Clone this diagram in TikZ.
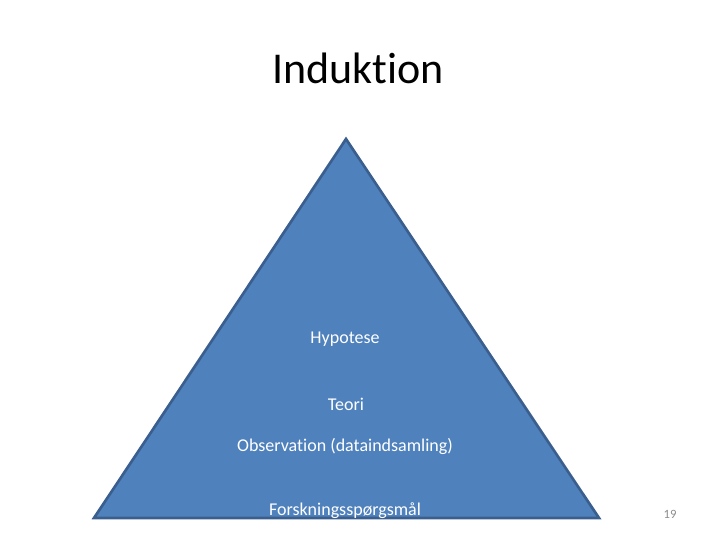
\documentclass[tikz,border=0pt]{standalone}
\usepackage{fontspec}
\setmainfont[Ligatures=NoCommon]{Carlito}
\definecolor{tfill}{HTML}{4F81BD}
\definecolor{tline}{HTML}{3A5F8E}
\definecolor{numgray}{HTML}{8C8C8C}
\begin{document}
\begin{tikzpicture}[x=0.75pt,y=-0.75pt,
  lbl/.style={text=white,font=\fontsize{13.5}{16}\selectfont,inner sep=0pt,anchor=center}]
\useasboundingbox (0,0) rectangle (720,540);
\node[font=\fontsize{33}{40}\selectfont,inner sep=0pt] (title) at (358,68) {Induktion};
\coordinate (apex) at (346,139);
\coordinate (bl) at (94,518);
\coordinate (br) at (599,518);
\draw[tline,fill=tfill,line width=2pt,line join=miter] (apex) -- (br) -- (bl) -- cycle;
\node[lbl] (hyp) at (345,339) {Hypotese};
\node[lbl] (teo) at (346,404) {Teori};
\node[lbl] (obs) at (345,446) {Observation (dataindsamling)};
\node[lbl] (fsp) at (345,511) {Forskningsspørgsmål};
\node[text=numgray,font=\fontsize{9.5}{11}\selectfont,inner sep=0pt] (num) at (670,514) {19};
\end{tikzpicture}
\end{document}
